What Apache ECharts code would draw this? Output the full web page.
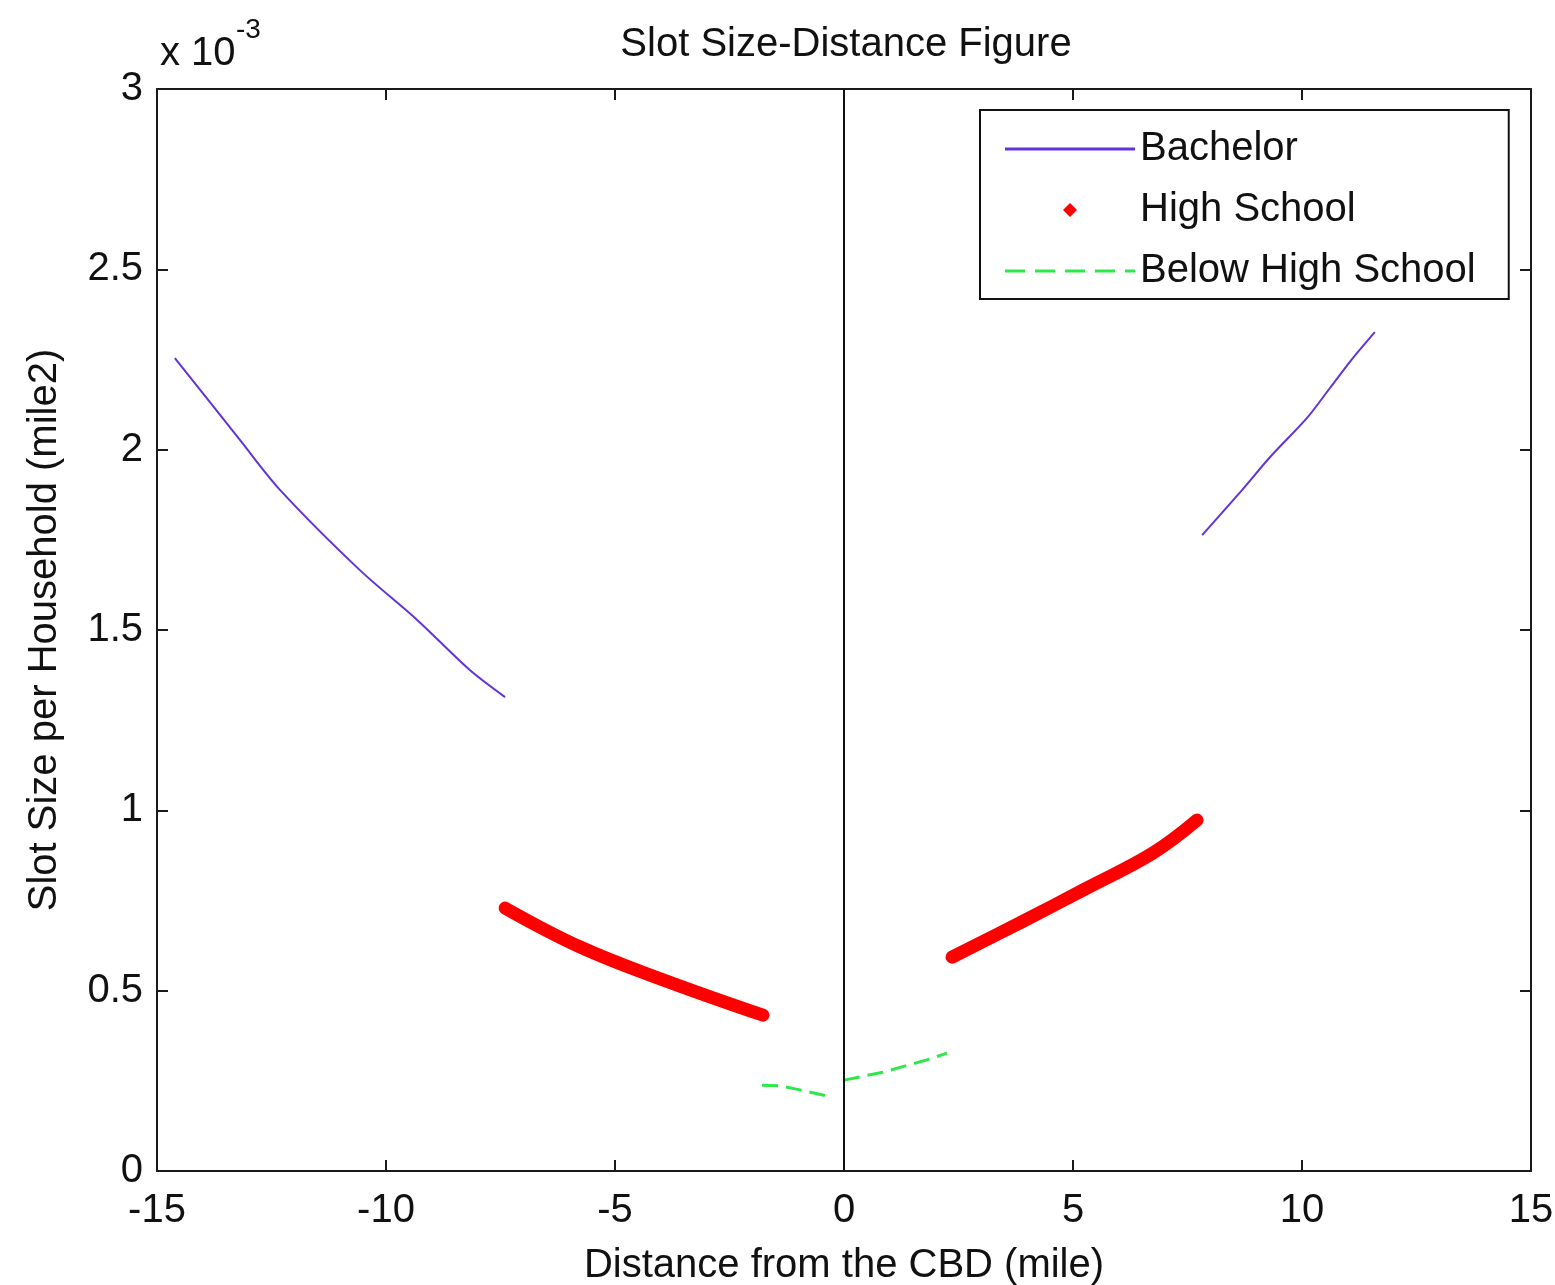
<!DOCTYPE html>
<html>
<head>
<meta charset="utf-8">
<script src="https://cdn.jsdelivr.net/npm/echarts@6/dist/echarts.min.js"></script>
<style>
  html, body { margin: 0; padding: 0; background: #fff; }
  #slotChart { width: 1555px; height: 1285px; }
</style>
</head>
<body>
<div id="slotChart"></div>
<script>
// values (y in units of 10^-3 mile2)
var bachelorLeftX = [-14.61, -13.19, -12.31, -10.57, -9.32, -8.17, -7.40]
var bachelorLeftY = [2.254, 2.027, 1.888, 1.666, 1.528, 1.389, 1.314]
var bachelorRightX = [7.82, 8.69, 9.30, 10.11, 10.61, 11.11, 11.59]
var bachelorRightY = [1.763, 1.888, 1.979, 2.088, 2.171, 2.254, 2.326]

var highLeftX = [-7.40, -5.76, -3.95, -1.77]
var highLeftY = [0.729, 0.621, 0.530, 0.432]
var highRightX = [2.36, 3.84, 5.31, 6.75, 7.71]
var highRightY = [0.593, 0.688, 0.785, 0.882, 0.973]

var belowLeftX = [-1.79, -1.40, -0.96, -0.26]
var belowLeftY = [0.238, 0.236, 0.225, 0.205]
var belowRightX = [0.0, 0.85, 1.81, 2.25]
var belowRightY = [0.252, 0.274, 0.308, 0.327]

var cbdX = [0, 0]
var cbdY = [0, 3]

var xTicks = [-15, -10, -5, 0, 5, 10, 15]
var yTicks = [0, 0.5, 1, 1.5, 2, 2.5, 3]

function zip (xs, ys) {
  return xs.map(function (x, i) { return [x, ys[i]] })
}

var fontName = 'Liberation Sans, Arial, sans-serif'
var purple = '#6233d8'
var red = '#ff0000'
var green = '#2ee84a'

var axisLine = { onZero: false, lineStyle: { color: '#1a1a1a', width: 2 } }
var tickIn = { inside: true, length: 11, lineStyle: { color: '#1a1a1a', width: 2 } }

var option = {
  backgroundColor: '#fff',
  animation: false,
  title: {
    text: 'Slot Size-Distance Figure',
    left: 841,
    textAlign: 'center',
    top: 20,
    textStyle: { fontFamily: fontName, fontSize: 40, fontWeight: 'normal', color: '#111' }
  },
  graphic: [
    { type: 'text', left: 160, top: 34, style: { text: 'x 10', font: '40px ' + fontName, fill: '#111' } },
    { type: 'text', left: 236, top: 16, style: { text: '-3', font: '28px ' + fontName, fill: '#111' } }
  ],
  legend: {
    orient: 'vertical',
    left: 980,
    top: 110,
    padding: [19, 33, 8, 25],
    itemGap: 21,
    itemWidth: 130,
    itemHeight: 14,
    borderColor: '#111',
    borderWidth: 2,
    backgroundColor: '#fff',
    itemStyle: { borderWidth: 0 },
    textStyle: { fontFamily: fontName, fontSize: 40, color: '#111' },
    data: [
      { name: 'Bachelor', icon: 'path://M0,5.5H130V8.5H0Z' },
      { name: 'High School', icon: 'path://M0,7L0,7 M58,7L65,0L72,7L65,14Z M130,7L130,7' },
      { name: 'Below High School', icon: 'path://M0,5.5H20V8.5H0Z M30,5.5H50V8.5H30Z M60,5.5H80V8.5H60Z M90,5.5H110V8.5H90Z M120,5.5H130V8.5H120Z' }
    ]
  },
  grid: { left: 157, right: 24, top: 89, bottom: 114, containLabel: false, outerBoundsMode: 'none' },
  xAxis: [
    {
      type: 'value', min: xTicks[0], max: xTicks[xTicks.length - 1], interval: 5,
      name: 'Distance from the CBD (mile)', nameLocation: 'middle', nameGap: 75,
      nameTextStyle: { fontFamily: fontName, fontSize: 40, color: '#111' },
      axisLine: axisLine, axisTick: tickIn, splitLine: { show: false },
      axisLabel: { fontFamily: fontName, fontSize: 40, color: '#111', margin: 20 }
    },
    {
      type: 'value', position: 'top', min: xTicks[0], max: xTicks[xTicks.length - 1], interval: 5,
      axisLine: axisLine, axisTick: tickIn, splitLine: { show: false }, axisLabel: { show: false }
    }
  ],
  yAxis: [
    {
      type: 'value', min: yTicks[0], max: yTicks[yTicks.length - 1], interval: 0.5,
      name: 'Slot Size per Household (mile2)', nameLocation: 'middle', nameGap: 92,
      nameTextStyle: { fontFamily: fontName, fontSize: 40, color: '#111' },
      axisLine: axisLine, axisTick: tickIn, splitLine: { show: false },
      axisLabel: { fontFamily: fontName, fontSize: 40, color: '#111', margin: 14 }
    },
    {
      type: 'value', position: 'right', min: yTicks[0], max: yTicks[yTicks.length - 1], interval: 0.5,
      axisLine: axisLine, axisTick: tickIn, splitLine: { show: false }, axisLabel: { show: false }
    }
  ],
  series: [
    {
      name: 'Bachelor', type: 'line', showSymbol: false, symbol: 'none', smooth: 0.3,
      data: zip(bachelorLeftX, bachelorLeftY),
      itemStyle: { color: purple }, lineStyle: { color: purple, width: 2 }
    },
    {
      name: 'Bachelor', type: 'line', showSymbol: false, symbol: 'none', smooth: 0.3,
      data: zip(bachelorRightX, bachelorRightY),
      itemStyle: { color: purple }, lineStyle: { color: purple, width: 2 }
    },
    {
      name: 'High School', type: 'line', showSymbol: false, symbol: 'none', smooth: 0.4,
      data: zip(highLeftX, highLeftY),
      itemStyle: { color: red }, lineStyle: { color: red, width: 13, cap: 'round' }
    },
    {
      name: 'High School', type: 'line', showSymbol: false, symbol: 'none', smooth: 0.4,
      data: zip(highRightX, highRightY),
      itemStyle: { color: red }, lineStyle: { color: red, width: 13, cap: 'round' }
    },
    {
      name: 'Below High School', type: 'line', showSymbol: false, symbol: 'none',
      data: zip(belowLeftX, belowLeftY),
      itemStyle: { color: green }, lineStyle: { color: green, width: 3, type: [16, 8] }
    },
    {
      name: 'Below High School', type: 'line', showSymbol: false, symbol: 'none',
      data: zip(belowRightX, belowRightY),
      itemStyle: { color: green }, lineStyle: { color: green, width: 3, type: [16, 8] }
    },
    {
      name: 'cbd', type: 'line', showSymbol: false, symbol: 'none', silent: true,
      data: zip(cbdX, cbdY),
      lineStyle: { color: '#111', width: 2 }
    }
  ]
}

var slotChart = echarts.init(document.getElementById('slotChart'))
slotChart.setOption(option)
</script>
</body>
</html>
